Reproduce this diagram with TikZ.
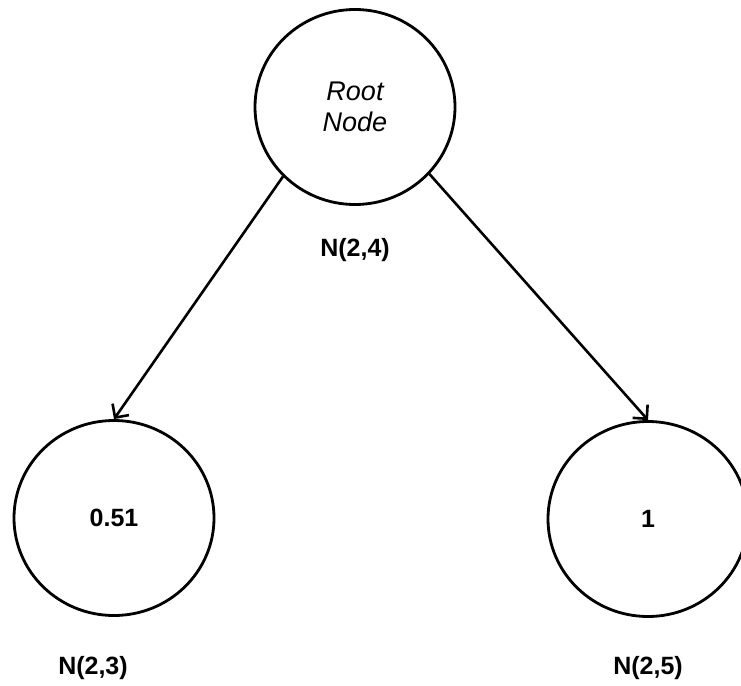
\documentclass[tikz,border=0pt]{standalone}
\usepackage{fontspec}
\setmainfont{Liberation Sans}
\usetikzlibrary{shapes.geometric,arrows.meta}

\begin{document}
\begin{tikzpicture}[
  x=1pt, y=-1pt,
  treenode/.style={ellipse, draw, line width=2.8pt, minimum width=200pt, minimum height=195pt, inner sep=0pt,
    font=\fontsize{25}{31}\selectfont\bfseries},
  nodelabel/.style={font=\fontsize{25}{31}\selectfont\bfseries},
  link/.style={draw, line width=2.6pt, -{Straight Barb[length=10pt,width=20pt]}}
]
\useasboundingbox (0,0) rectangle (741,685);
\node[treenode, align=center, font=\fontsize{27}{31}\selectfont\itshape] (root) at (355,107) {Root\\Node};
\node[treenode] (left) at (114,518) {0.51};
\node[treenode] (right) at (648,519) {1};
\node[nodelabel] (rootlab) at (355,250) {N(2,4)};
\node[nodelabel] (leftlab) at (93,668) {N(2,3)};
\node[nodelabel] (rightlab) at (648,668) {N(2,5)};
\draw[link] (root.224) -- (left.north);
\draw[link] (root.318) -- (right.north);
\end{tikzpicture}
\end{document}
